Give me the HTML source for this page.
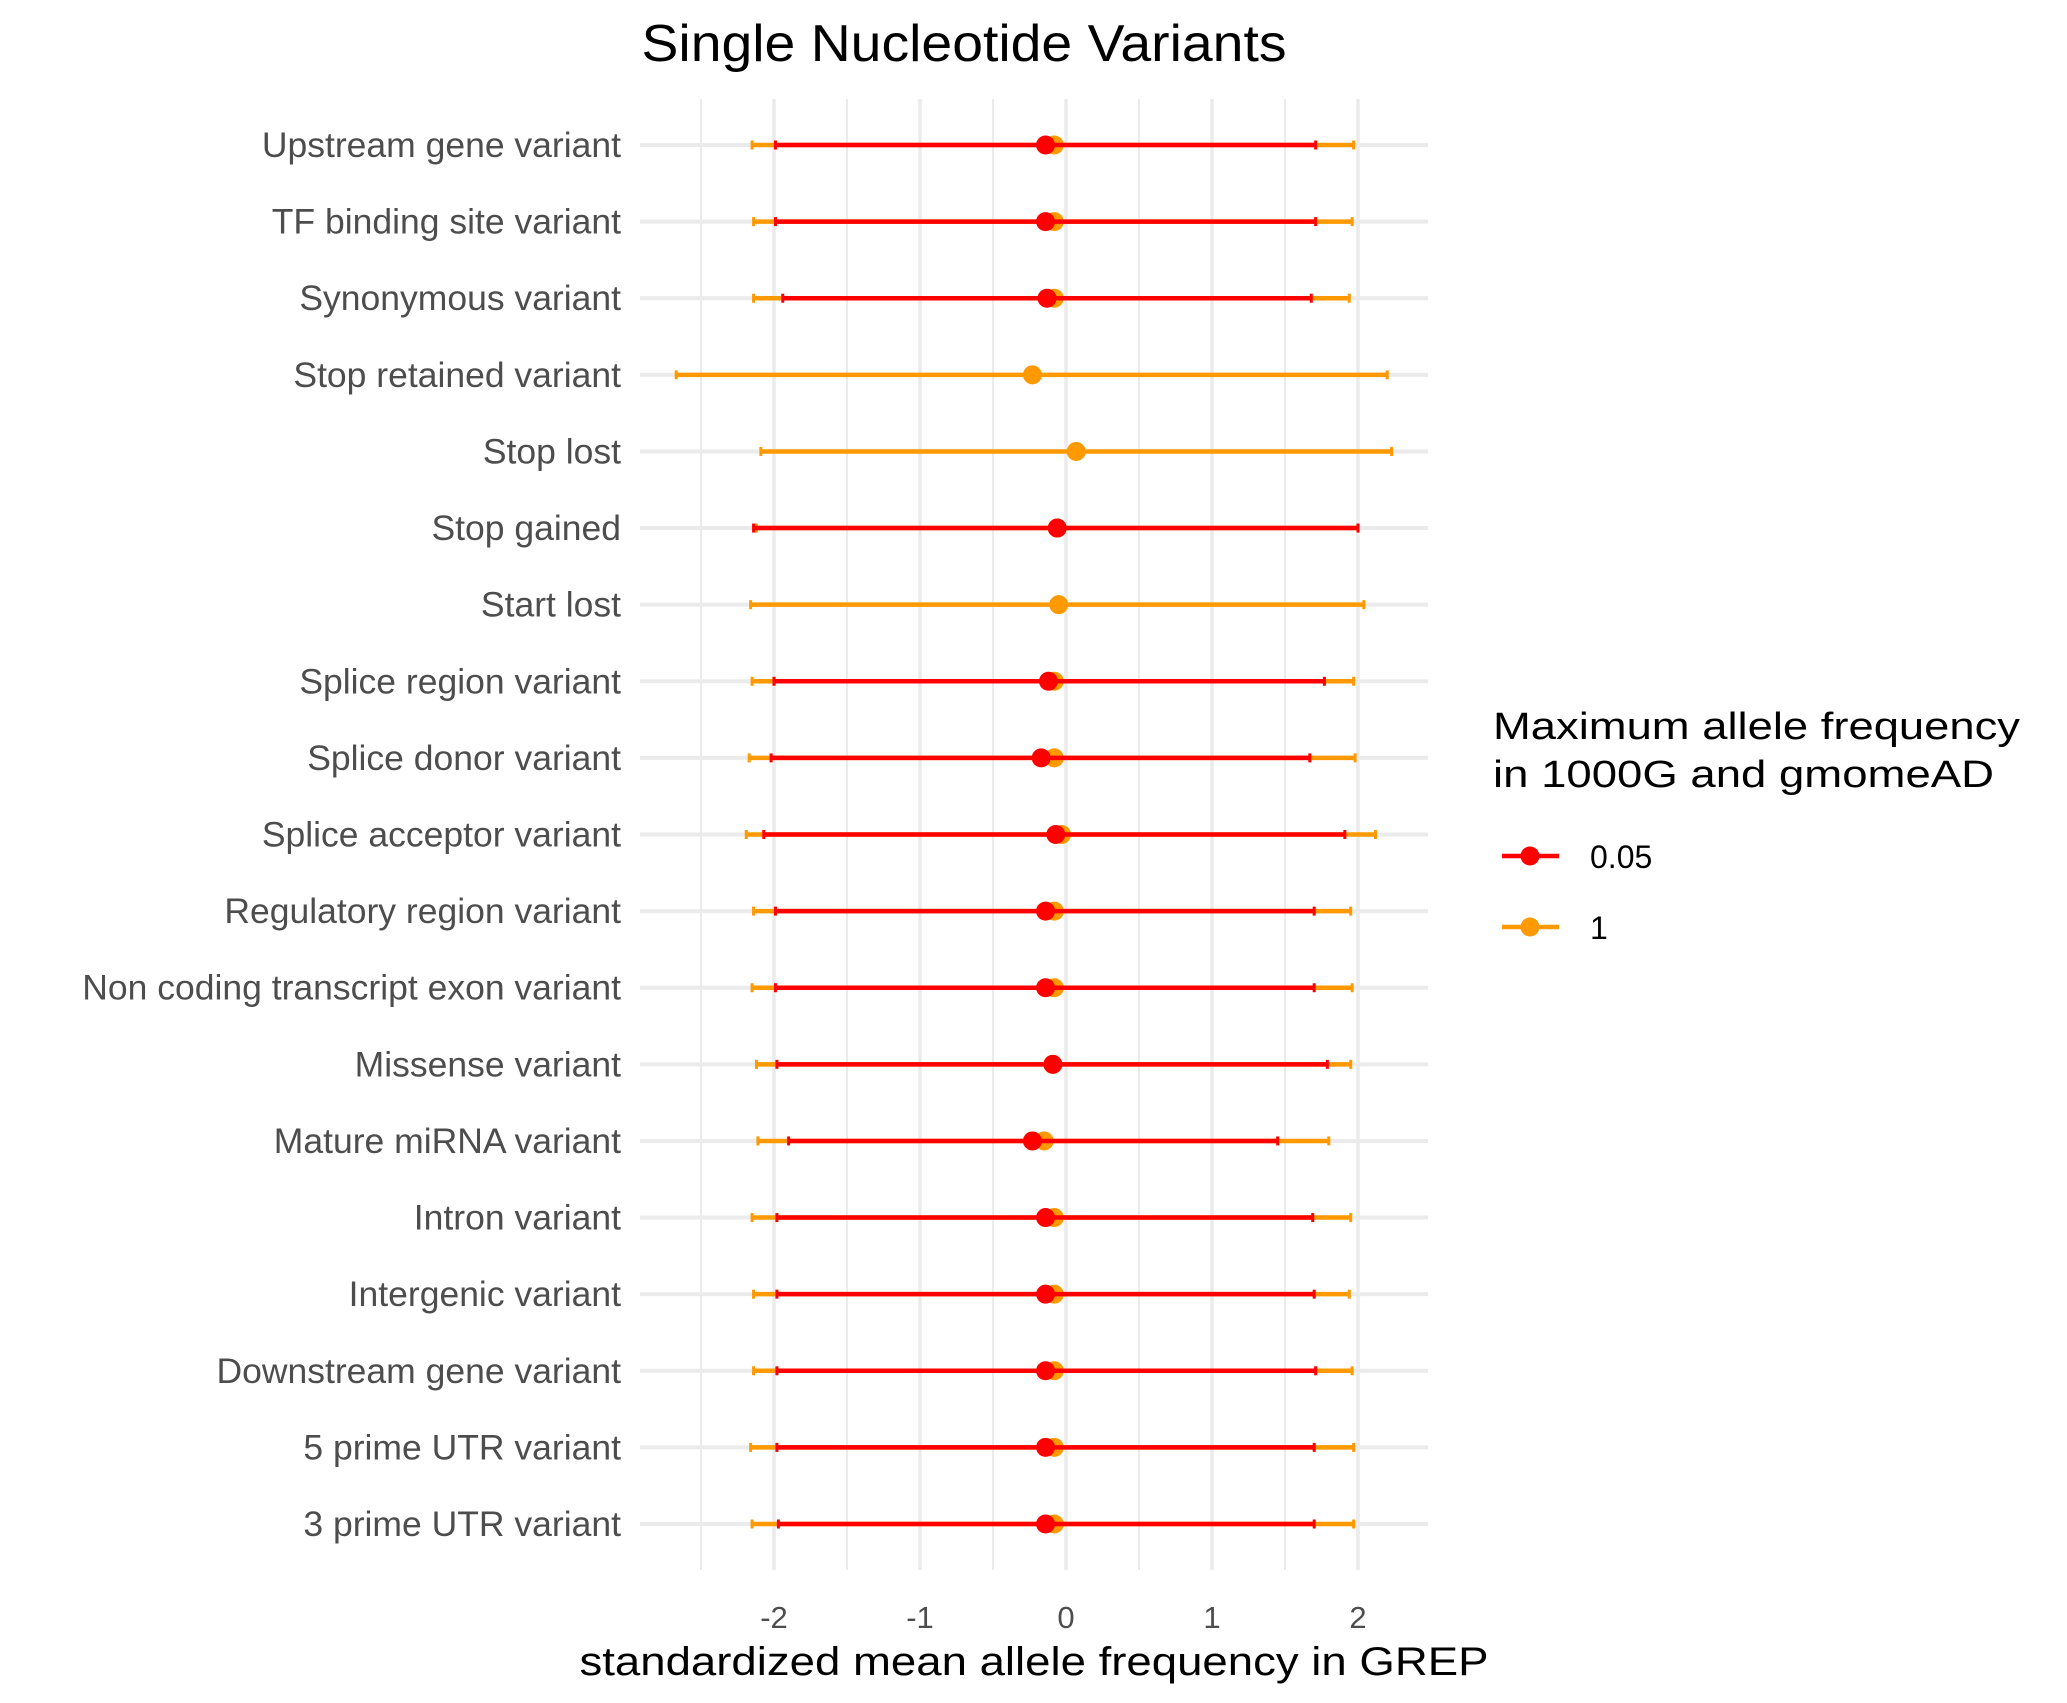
<!DOCTYPE html>
<html><head><meta charset="utf-8"><style>
html,body{margin:0;padding:0;background:#fff;}
svg{display:block;font-family:"Liberation Sans",Arial,sans-serif;}
</style></head><body>
<svg id="chart" width="2067" height="1703" viewBox="0 0 2067 1703" xmlns="http://www.w3.org/2000/svg">
<rect width="2067" height="1703" fill="#fff"/>
<text x="964" y="61" font-size="52" text-anchor="middle" textLength="645" lengthAdjust="spacingAndGlyphs">Single Nucleotide Variants</text>
<g id="grid"></g>
<g id="marks"></g>
<g id="ylabels"></g>
<g id="xlabels"></g>
<text x="1034" y="1675" font-size="40" text-anchor="middle" textLength="909" lengthAdjust="spacingAndGlyphs">standardized mean allele frequency in GREP</text>
<g>
<text x="1493" y="739" font-size="38" textLength="527" lengthAdjust="spacingAndGlyphs">Maximum allele frequency</text>
<text x="1493" y="787" font-size="38" textLength="501" lengthAdjust="spacingAndGlyphs">in 1000G and gmomeAD</text>
<g>
<line x1="1502" y1="856" x2="1559" y2="856" stroke="#ff0000" stroke-width="4.5"/>
<circle cx="1530" cy="856" r="9.5" fill="#ff0000"/>
<text x="1590" y="868" font-size="32">0.05</text></g>
<g>
<line x1="1502" y1="927" x2="1559" y2="927" stroke="#ff9900" stroke-width="4.5"/>
<circle cx="1530" cy="927" r="9.5" fill="#ff9900"/>
<text x="1590" y="939" font-size="32">1</text></g>
</g>
</svg>
<script>
const categories = ["Upstream gene variant","TF binding site variant","Synonymous variant","Stop retained variant","Stop lost","Stop gained","Start lost","Splice region variant","Splice donor variant","Splice acceptor variant","Regulatory region variant","Non coding transcript exon variant","Missense variant","Mature miRNA variant","Intron variant","Intergenic variant","Downstream gene variant","5 prime UTR variant","3 prime UTR variant"];
const orangeMean = [-0.08,-0.08,-0.08,-0.23,0.07,-0.06,-0.05,-0.08,-0.08,-0.03,-0.08,-0.08,-0.09,-0.15,-0.08,-0.08,-0.08,-0.08,-0.08];
const orangeLow  = [-2.15,-2.14,-2.14,-2.67,-2.09,-2.12,-2.16,-2.15,-2.17,-2.19,-2.14,-2.15,-2.12,-2.11,-2.15,-2.14,-2.14,-2.16,-2.15];
const orangeHigh = [1.97,1.96,1.94,2.20,2.23,2.00,2.04,1.97,1.98,2.12,1.95,1.96,1.95,1.80,1.95,1.94,1.96,1.97,1.97];
const redMean = [-0.14,-0.14,-0.13,null,null,-0.06,null,-0.12,-0.17,-0.07,-0.14,-0.14,-0.09,-0.23,-0.14,-0.14,-0.14,-0.14,-0.14];
const redLow  = [-1.99,-1.99,-1.94,null,null,-2.14,null,-2.00,-2.02,-2.07,-1.99,-1.99,-1.98,-1.90,-1.98,-1.98,-1.98,-1.98,-1.97];
const redHigh = [1.71,1.71,1.68,null,null,2.00,null,1.77,1.67,1.91,1.70,1.70,1.79,1.45,1.69,1.70,1.71,1.70,1.70];
const xTicks = [-2,-1,0,1,2];
const xTickLabels = ["-2","-1","0","1","2"];
const xMinor = [-2.5,-1.5,-0.5,0.5,1.5];

const NS="http://www.w3.org/2000/svg";
const xs = v => 1066 + v*146;
const ys = i => 145 + i*(1524-145)/(categories.length-1);
function mk(tag, attrs, parent){const e=document.createElementNS(NS,tag);for(const k in attrs)e.setAttribute(k,attrs[k]);parent.appendChild(e);return e;}
const grid=document.getElementById('grid'), marks=document.getElementById('marks');
const yl=document.getElementById('ylabels'), xl=document.getElementById('xlabels');
xMinor.forEach(v=>{const l=mk('line',{x1:xs(v),x2:xs(v),y1:99,y2:1570,stroke:'#ebebeb','stroke-width':2},grid);

});
xTicks.forEach((v,i)=>{const l=mk('line',{x1:xs(v),x2:xs(v),y1:99,y2:1570,stroke:'#ebebeb','stroke-width':3.5},grid);


const t=mk('text',{x:xs(v),y:1628,'font-size':31,fill:'#4d4d4d','text-anchor':'middle'},xl);t.textContent=xTickLabels[i];

});
categories.forEach((c,i)=>{const y=ys(i);
const g=mk('line',{x1:640,x2:1428,y1:y,y2:y,stroke:'#ebebeb','stroke-width':4},grid);


const t=mk('text',{x:621,y:y+12,'font-size':35.5,fill:'#4d4d4d','text-anchor':'end'},yl);t.textContent=c;


function series(lo,hi,m,col,name){if(m==null)return;
const gg=mk('g',{},marks);


mk('line',{x1:xs(lo),x2:xs(hi),y1:y,y2:y,stroke:col,'stroke-width':4.5},gg);
mk('line',{x1:xs(lo),x2:xs(lo),y1:y-4.5,y2:y+4.5,stroke:col,'stroke-width':3},gg);
mk('line',{x1:xs(hi),x2:xs(hi),y1:y-4.5,y2:y+4.5,stroke:col,'stroke-width':3},gg);
mk('circle',{cx:xs(m),cy:y,r:9.5,fill:col},gg);}
series(orangeLow[i],orangeHigh[i],orangeMean[i],'#ff9900','errorbar-af-1');
series(redLow[i],redHigh[i],redMean[i],'#ff0000','errorbar-af-0.05');
});
</script>
</body></html>
